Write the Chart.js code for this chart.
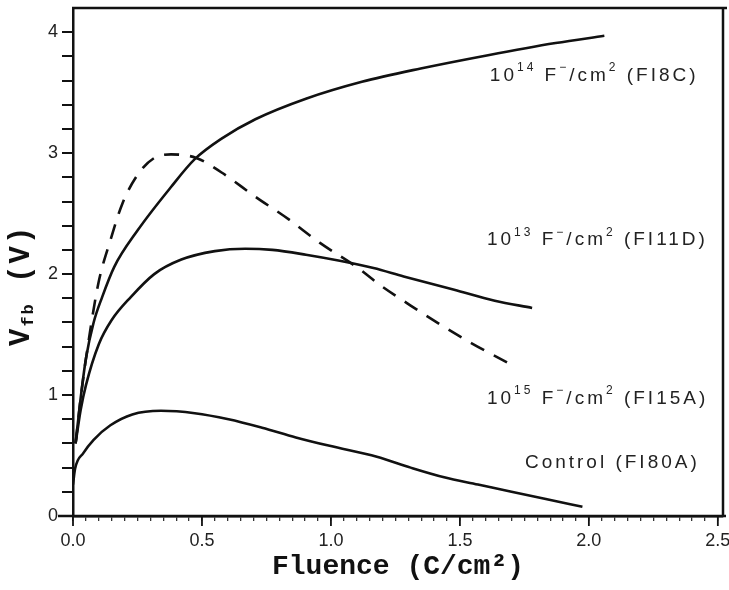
<!DOCTYPE html>
<html lang="en">
<head>
  <meta charset="UTF-8" />
  <title>Vfb vs Fluence</title>
  <script src="https://cdn.jsdelivr.net/npm/chart.js"></script>
  <style>
    body { margin: 0; background: #fff; }
    .wrap { width: 729px; height: 590px; }
  </style>
</head>
<body>
  <div class="wrap"><canvas id="vfbChart" width="729" height="590"></canvas></div>

  <script>
    // fluence (C/cm2) vs flat-band voltage (V)
    const fi8cX  = [0.01, 0.03, 0.05, 0.08, 0.113, 0.16, 0.25, 0.38, 0.472, 0.576, 0.707, 0.903, 1.12, 1.348, 1.609, 1.871, 2.06];
    const fi8cY  = [0.60, 0.98, 1.30, 1.60, 1.81, 2.06, 2.36, 2.72, 2.95, 3.12, 3.28, 3.45, 3.59, 3.70, 3.81, 3.91, 3.97];

    const fi11dX = [0.01, 0.03, 0.05, 0.10, 0.15, 0.224, 0.315, 0.42, 0.55, 0.668, 0.773, 0.903, 1.034, 1.165, 1.282, 1.478, 1.635, 1.78];
    const fi11dY = [0.60, 0.88, 1.08, 1.42, 1.62, 1.81, 2.00, 2.12, 2.19, 2.21, 2.20, 2.16, 2.11, 2.05, 1.98, 1.87, 1.78, 1.72];

    const fi15aX = [0.01, 0.03, 0.06, 0.099, 0.145, 0.191, 0.25, 0.315, 0.38, 0.478, 0.576, 0.707, 0.838, 0.956, 1.099, 1.19, 1.309, 1.426, 1.544, 1.70];
    const fi15aY = [0.60, 0.98, 1.44, 1.93, 2.28, 2.58, 2.82, 2.96, 2.99, 2.96, 2.84, 2.64, 2.45, 2.26, 2.06, 1.91, 1.74, 1.58, 1.43, 1.25];

    const ctrlX  = [0.0, 0.008, 0.04, 0.08, 0.145, 0.23, 0.341, 0.472, 0.603, 0.733, 0.864, 0.995, 1.178, 1.309, 1.439, 1.57, 1.70, 1.833, 1.975];
    const ctrlY  = [0.26, 0.39, 0.52, 0.63, 0.75, 0.84, 0.87, 0.85, 0.80, 0.73, 0.65, 0.58, 0.49, 0.40, 0.32, 0.26, 0.20, 0.14, 0.077];

    const xTicks = [];
    for (let i = 0; i <= 50; i++) xTicks.push(i / 20);   // every 0.05
    const yTicks = [];
    for (let i = 0; i <= 20; i++) yTicks.push(i / 5);    // every 0.2

    // curve labels: [text, superscript?] parts, anchored at (fluence, volts)
    const labelFI8C  = [['10', 0], ['14', 1], [' F', 0], ['\u2212', 1], ['/cm', 0], ['2', 1], [' (FI8C)', 0]];
    const labelFI11D = [['10', 0], ['13', 1], [' F', 0], ['\u2212', 1], ['/cm', 0], ['2', 1], [' (FI11D)', 0]];
    const labelFI15A = [['10', 0], ['15', 1], [' F', 0], ['\u2212', 1], ['/cm', 0], ['2', 1], [' (FI15A)', 0]];
    const labelCtrl  = [['Control (FI80A)', 0]];
    const labelAnchors = [[1.616, 3.64, labelFI8C], [1.605, 2.28, labelFI11D], [1.605, 0.97, labelFI15A], [1.752, 0.44, labelCtrl]];

    const pts = (xs, ys) => xs.map((x, i) => ({ x, y: ys[i] }));
    const isMajorX = v => Math.abs(v * 2 - Math.round(v * 2)) < 1e-6;

    function drawRich(ctx, parts, x, y, size) {
      let cx = x;
      parts.forEach(([t, sup]) => {
        ctx.font = (sup ? Math.round(size * 0.62) : size) + 'px "Liberation Sans"';
        ctx.fillText(t, cx, sup ? y - size * 0.4 : y);
        cx += ctx.measureText(t).width;
      });
    }

    const framePlugin = {
      id: 'frame',
      afterDraw(chart) {
        const { ctx, chartArea: a, scales: { x, y } } = chart;
        ctx.save();
        ctx.strokeStyle = '#111';
        ctx.lineWidth = 2.5;
        ctx.beginPath();
        ctx.moveTo(a.left - 1, a.top); ctx.lineTo(a.right + 4, a.top);   // top border
        ctx.moveTo(a.right, a.top); ctx.lineTo(a.right, a.bottom);       // right border
        ctx.moveTo(a.left - 15, a.bottom); ctx.lineTo(a.right + 3, a.bottom);
        ctx.stroke();
        // longer major ticks on the fluence axis
        ctx.lineWidth = 1.8;
        ctx.beginPath();
        xTicks.filter(isMajorX).forEach(v => {
          const px = x.getPixelForValue(v);
          ctx.moveTo(px, a.bottom); ctx.lineTo(px, a.bottom + 10);
        });
        ctx.stroke();

        // curve labels
        ctx.fillStyle = '#222';
        ctx.textBaseline = 'middle';
        ctx.letterSpacing = '3px';
        labelAnchors.forEach(([fx, fv, parts]) => {
          drawRich(ctx, parts, x.getPixelForValue(fx), y.getPixelForValue(fv), 19);
        });

        // y axis title: V_fb (V)
        ctx.translate(22, 282);
        ctx.rotate(-Math.PI / 2);
        ctx.fillStyle = '#111';
        ctx.textBaseline = 'middle';
        ctx.letterSpacing = '2px';
        let cx = -64;
        ctx.font = 'bold 29px "Liberation Mono"';
        ctx.fillText('V', cx, 0); cx += ctx.measureText('V').width;
        ctx.font = 'bold 17px "Liberation Mono"';
        ctx.fillText('fb', cx, 7); cx += ctx.measureText('fb').width;
        ctx.font = 'bold 29px "Liberation Mono"';
        ctx.fillText(' (V)', cx, 0);
        ctx.restore();
      }
    };

    const line = (data, dash) => ({
      data, borderColor: '#111', borderWidth: 2.6, pointRadius: 0, showLine: true,
      cubicInterpolationMode: 'monotone', borderDash: dash || [], fill: false
    });

    new Chart(document.getElementById('vfbChart'), {
      type: 'scatter',
      data: {
        datasets: [
          line(pts(fi8cX, fi8cY)),
          line(pts(fi11dX, fi11dY)),
          line(pts(fi15aX, fi15aY), [15, 11]),
          line(pts(ctrlX, ctrlY))
        ]
      },
      options: {
        responsive: false,
        animation: false,
        devicePixelRatio: 1,
        layout: { padding: { top: 8, right: 6, left: 0, bottom: 0 } },
        plugins: { legend: { display: false }, tooltip: { enabled: false } },
        scales: {
          x: {
            type: 'linear', min: 0, max: 2.52,
            afterBuildTicks: s => { s.ticks = xTicks.map(v => ({ value: v })); },
            afterFit: s => { s.height = 74; s.paddingLeft = 0; s.paddingRight = 0; },
            ticks: {
              autoSkip: false, maxRotation: 0, padding: 9, color: '#222',
              font: { family: 'Liberation Sans', size: 18 },
              callback: v => isMajorX(v) ? v.toFixed(1) : ''
            },
            grid: { drawOnChartArea: false, drawTicks: true, tickLength: 5, color: '#333', lineWidth: 1.3 },
            border: { display: true, color: '#111', width: 2.5 },
            title: {
              display: true, text: 'Fluence (C/cm\u00b2)', color: '#111',
              font: { family: 'Liberation Mono', size: 28, weight: 'bold' },
              padding: { top: 0, bottom: 6 }
            }
          },
          y: {
            type: 'linear', min: 0, max: 4.2,
            afterBuildTicks: s => { s.ticks = yTicks.map(v => ({ value: v })); },
            afterFit: s => { s.width = 73; s.paddingTop = 0; s.paddingBottom = 0; },
            ticks: {
              autoSkip: false, padding: 4, color: '#222',
              font: { family: 'Liberation Sans', size: 18 },
              callback: v => Math.abs(v - Math.round(v)) < 1e-6 ? String(Math.round(v)) : ''
            },
            grid: { drawOnChartArea: false, drawTicks: true, tickLength: 11, color: '#111', lineWidth: 2 },
            border: { display: true, color: '#111', width: 2.5 }
          }
        }
      },
      plugins: [framePlugin]
    });
  </script>
</body>
</html>
